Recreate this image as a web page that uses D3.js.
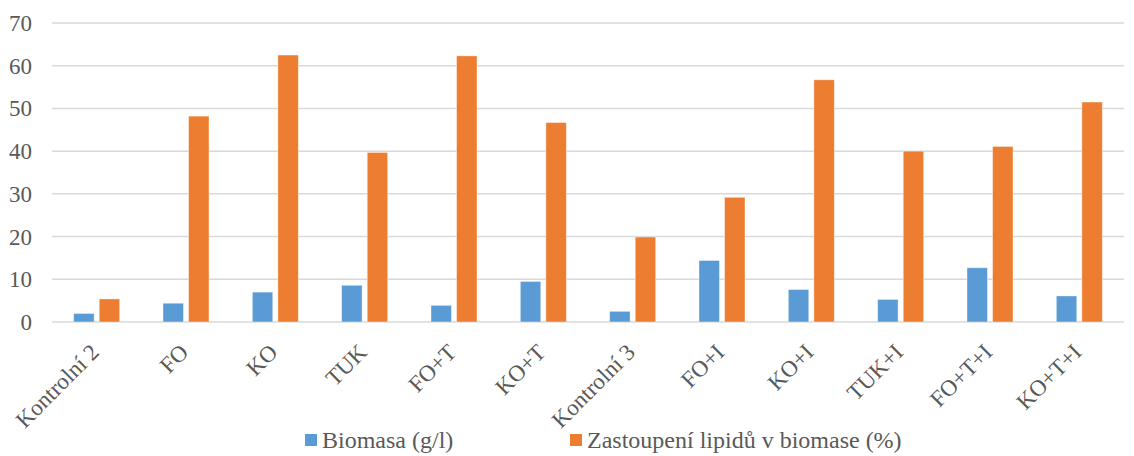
<!DOCTYPE html>
<html>
<head>
<meta charset="utf-8">
<script src="https://cdn.jsdelivr.net/npm/d3@7"></script>
<style>
  body { margin: 0; background: #fff; }
</style>
</head>
<body>
<svg width="1134" height="456"></svg>
<script>
let categories = ["Kontrolní 2", "FO", "KO", "TUK", "FO+T", "KO+T",
  "Kontrolní 3", "FO+I", "KO+I", "TUK+I", "FO+T+I", "KO+T+I"];
let seriesNames = ["Biomasa (g/l)", "Zastoupení lipidů v biomase (%)"];
let biomasa = [2.0, 4.4, 7.0, 8.6, 3.9, 9.5, 2.5, 14.4, 7.6, 5.3, 12.7, 6.1];
let lipidy = [5.4, 48.2, 62.5, 39.7, 62.3, 46.7, 19.9, 29.2, 56.7, 40.0, 41.1, 51.5];
let yTicks = [0, 10, 20, 30, 40, 50, 60, 70];
let colors = ["#5B9BD5", "#ED7D31"];

let font = "'Liberation Serif', 'Times New Roman', serif";
let svg = d3.select("svg");
let plotLeft = 52, plotRight = 1124, plotTop = 23, plotBottom = 322;

let x0 = d3.scaleBand().domain(categories).range([plotLeft, plotRight]).padding(0);
let bw = x0.bandwidth();
let x1 = d3.scaleBand().domain([0, 1]).range([bw / 2 - 23, bw / 2 + 23]).paddingInner(0.2);
let y = d3.scaleLinear().domain([0, 70]).range([plotBottom, plotTop]);

// gridlines
svg.append("g")
  .selectAll("line")
  .data(yTicks)
  .enter()
  .append("line")
  .attr("x1", plotLeft)
  .attr("x2", plotRight)
  .attr("y1", d => y(d))
  .attr("y2", d => y(d))
  .attr("stroke", "#D9D9D9")
  .attr("stroke-width", 1.5);

// y tick labels
svg.append("g")
  .selectAll("text")
  .data(yTicks)
  .enter()
  .append("text")
  .attr("x", 32)
  .attr("y", d => y(d))
  .attr("dy", "0.35em")
  .attr("text-anchor", "end")
  .attr("font-family", font)
  .attr("font-size", 23)
  .attr("fill", "#595959")
  .text(d => d);

// bars
let groups = svg.append("g")
  .selectAll("g")
  .data(categories)
  .enter()
  .append("g")
  .attr("transform", d => "translate(" + x0(d) + ",0)");

groups.selectAll("rect")
  .data((d, i) => [biomasa[i], lipidy[i]])
  .enter()
  .append("rect")
  .attr("x", (d, i) => x1(i))
  .attr("width", x1.bandwidth())
  .attr("y", d => y(d))
  .attr("height", d => y(0) - y(d))
  .attr("fill", (d, i) => colors[i])
  .attr("stroke", "#fff")
  .attr("stroke-opacity", 0.5)
  .attr("stroke-width", 0.8);

// x labels
svg.append("g")
  .selectAll("text")
  .data(categories)
  .enter()
  .append("text")
  .attr("transform", d => "translate(" + (x0(d) + bw / 2 - 2) + ",348) rotate(-45)")
  .attr("text-anchor", "end")
  .attr("dy", "0.35em")
  .attr("font-family", font)
  .attr("font-size", 23)
  .attr("fill", "#595959")
  .text(d => d);

// legend
let legendX = [305, 570];
let legend = svg.append("g")
  .selectAll("g")
  .data(seriesNames)
  .enter()
  .append("g")
  .attr("transform", (d, i) => "translate(" + legendX[i] + ",434)");

legend.append("rect")
  .attr("width", 12)
  .attr("height", 12)
  .attr("fill", (d, i) => colors[i]);

legend.append("text")
  .attr("x", 17)
  .attr("y", 6)
  .attr("dy", "0.35em")
  .attr("font-family", font)
  .attr("font-size", 24)
  .attr("fill", "#595959")
  .text(d => d);
</script>
</body>
</html>
